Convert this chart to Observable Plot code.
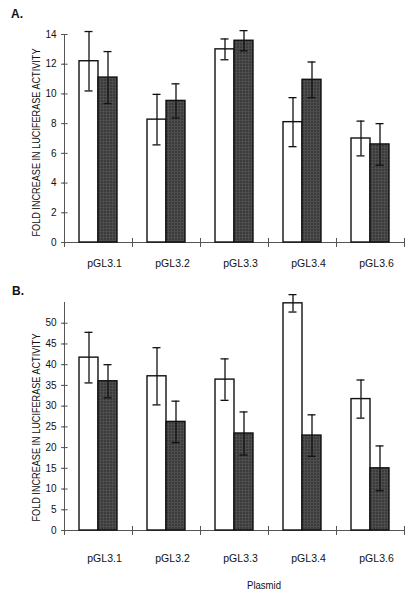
<!DOCTYPE html>
<html><head><meta charset="utf-8">
<script src="https://cdn.jsdelivr.net/npm/d3@7"></script>
<script src="https://cdn.jsdelivr.net/npm/@observablehq/plot@0.6"></script>
<style>
body{margin:0;background:#fff;font-family:"Liberation Sans",Arial,sans-serif;color:#111;}
#wrap{position:relative;width:413px;height:595px;overflow:hidden;background:#fff;}
.panel{position:absolute;left:0;}
.lbl{position:absolute;font-weight:bold;font-size:12px;}
</style></head><body>
<svg width="0" height="0" style="position:absolute">
  <defs>
    <pattern id="hatch" width="3" height="3" patternUnits="userSpaceOnUse">
      <rect width="3" height="3" fill="#3a3a3a"></rect>
      <path d="M0 0.5H3M0.5 0V3" stroke="#4e4e4e" stroke-width="1"></path>
    </pattern>
  </defs>
</svg>
<div id="wrap">
 <div class="panel" id="pa" style="top:0"></div>
 <div class="panel" id="pb" style="top:280px"></div>
 <div class="lbl" style="left:11px;top:7px">A.</div>
 <div class="lbl" style="left:12px;top:284px">B.</div>
 <div style="position:absolute;left:247px;top:579px;font-size:11px;transform:scaleX(0.87);transform-origin:left top">Plasmid</div>
</div>
<script>
const plasmids = ["pGL3.1", "pGL3.2", "pGL3.3", "pGL3.4", "pGL3.6"];
const seriesNames = ["open", "shaded"];
const yLabel = "FOLD INCREASE IN LUCIFERASE ACTIVITY";

// Panel A
const aOpen = [12.2, 8.27, 13.0, 8.1, 7.0];
const aOpenErr = [2.0, 1.7, 0.7, 1.65, 1.17];
const aShaded = [11.1, 9.53, 13.58, 10.95, 6.6];
const aShadedErr = [1.75, 1.15, 0.68, 1.2, 1.4];
const aTicks = [0, 2, 4, 6, 8, 10, 12, 14];

// Panel B
const bOpen = [41.7, 37.2, 36.4, 54.8, 31.7];
const bOpenErr = [6.1, 6.9, 5.0, 2.1, 4.6];
const bShaded = [36.0, 26.2, 23.4, 22.9, 15.0];
const bShadedErr = [4.0, 5.0, 5.2, 5.0, 5.4];
const bTicks = [0, 5, 10, 15, 20, 25, 30, 35, 40, 45, 50];

function rows(open, openErr, shaded, shadedErr) {
  const r = [];
  plasmids.forEach((p, i) => {
    r.push({plasmid: p, series: seriesNames[0], value: open[i], err: openErr[i]});
    r.push({plasmid: p, series: seriesNames[1], value: shaded[i], err: shadedErr[i]});
  });
  return r;
}

function panel(data, {height, marginTop, marginBottom, yDomain, yTicks, labelPad, labelShift}) {
  const innerH = height - marginTop - marginBottom;
  const facetW = (413 - 63 - 8) / plasmids.length;
  const svg = Plot.plot({
    width: 413, height, marginLeft: 63, marginRight: 8, marginTop, marginBottom,
    style: {fontFamily: "'Liberation Sans', Arial, sans-serif", fontSize: "10px", color: "#111", background: "white"},
    fx: {domain: plasmids, padding: 0, axis: null},
    x: {domain: seriesNames, paddingInner: 0, paddingOuter: 0.71, axis: null},
    y: {domain: yDomain, axis: null},
    color: {domain: seriesNames, range: ["#ffffff", "url(#hatch)"]},
    marks: [
      Plot.ruleY([0], {stroke: "#555", strokeWidth: 1}),
      Plot.frame({anchor: "left", facetAnchor: "left", stroke: "#555"}),
      Plot.frame({anchor: "left", stroke: "#555", insetTop: innerH - 4, insetBottom: -4}),
      Plot.frame({anchor: "right", stroke: "#555", insetTop: innerH - 4, insetBottom: -4}),
      Plot.tickY(yTicks, {y: d => d, facetAnchor: "left", stroke: "#555", insetLeft: -1, insetRight: facetW - 4}),
      Plot.axisY({ticks: yTicks, tickSize: 3, tickPadding: 5, stroke: "#555", fontSize: 10, label: yLabel, labelAnchor: "center", labelArrow: "none", labelOffset: 32}),
      Plot.axisFx({anchor: "bottom", tickSize: 0, tickPadding: labelPad, label: null, dx: 6, fontSize: 10.5}),
      Plot.barY(data, {fx: "plasmid", x: "series", y: "value", fill: "series", stroke: "#111", strokeWidth: 1.4}),
      Plot.ruleX(data, {fx: "plasmid", x: "series", y1: d => d.value - d.err, y2: d => d.value + d.err, stroke: "#111", strokeWidth: 1.3}),
      Plot.tickY(data, {fx: "plasmid", x: "series", y: d => d.value - d.err, stroke: "#111", strokeWidth: 1.3, insetLeft: 5.5, insetRight: 5.5}),
      Plot.tickY(data, {fx: "plasmid", x: "series", y: d => d.value + d.err, stroke: "#111", strokeWidth: 1.3, insetLeft: 5.5, insetRight: 5.5})
    ]
  });
  const lab = svg.querySelector('[aria-label="y-axis label"] text');
  if (lab) {
    lab.setAttribute("font-size", "11");
    const t = lab.getAttribute("transform") || "";
    lab.setAttribute("transform", t + ` translate(${-labelShift},0) scale(0.83,1)`);
  }
  return svg;
}

document.getElementById("pa").append(panel(rows(aOpen, aOpenErr, aShaded, aShadedErr), {
  height: 280, marginTop: 34, marginBottom: 38, yDomain: [0, 14], yTicks: aTicks, labelPad: 17, labelShift: 4
}));
document.getElementById("pb").append(panel(rows(bOpen, bOpenErr, bShaded, bShadedErr), {
  height: 292, marginTop: 22, marginBottom: 42, yDomain: [0, 55], yTicks: bTicks, labelPad: 24, labelShift: 11
}));
</script>
</body></html>
